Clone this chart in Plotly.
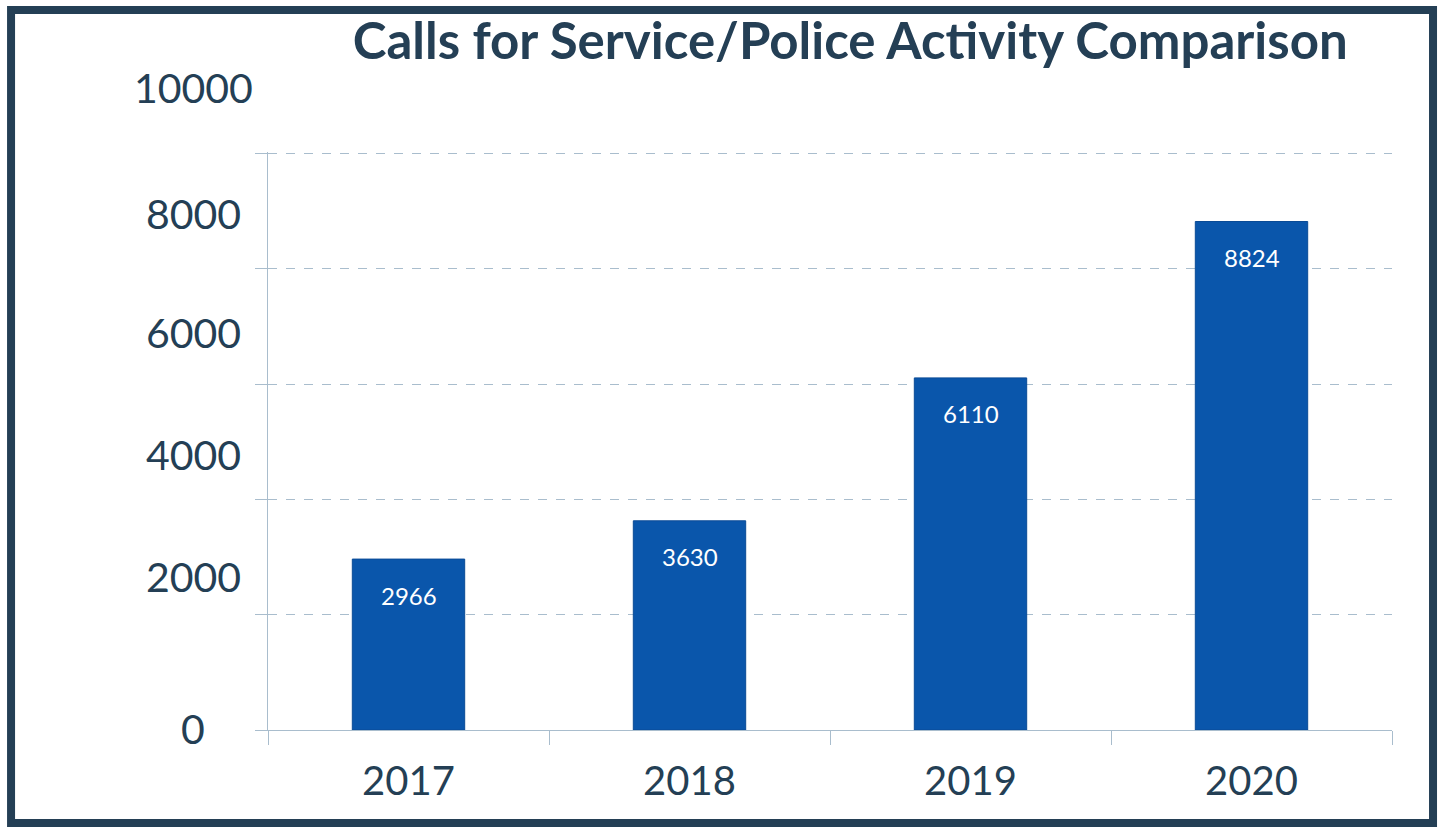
import plotly.graph_objects as go

# Data
years = ["2017", "2018", "2019", "2020"]
calls = [2966, 3630, 6110, 8824]
y_tick_values = [0, 2000, 4000, 6000, 8000, 10000]
y_tick_labels = ["0", "2000", "4000", "6000", "8000", "10000"]
# Vertical placement of the axis label texts (paper fraction of the plot height)
y_label_pos = [0.003, 0.265, 0.476, 0.687, 0.893, 1.111]

TEXT = "#243f55"
BAR = "#0a56ab"
GRID = "#a9bdcd"
FONT = "Lato"

fig = go.Figure()
fig.add_trace(go.Bar(
    x=years, y=calls, width=0.4,
    marker=dict(color=BAR, line=dict(color="#0a4b96", width=1)),
    hoverinfo="x+y",
))

annotations = []
# value labels inside the bars, near the top (x given as category index)
for i, v in enumerate(calls):
    annotations.append(dict(
        x=i, y=v, xref="x", yref="y", text=str(v), showarrow=False,
        yshift=-36, font=dict(family=FONT, size=24, color="white"),
    ))
# axis number labels
for txt, pos in zip(y_tick_labels, y_label_pos):
    annotations.append(dict(
        x=-0.0667, y=pos, xref="paper", yref="paper", text=txt, showarrow=False,
        xanchor="center", yanchor="middle",
        font=dict(family=FONT, size=41, color=TEXT),
    ))

fig.update_layout(
    margin=dict(l=268, r=50, t=152, b=97),
    paper_bgcolor="white", plot_bgcolor="white",
    showlegend=False,
    title=dict(
        text="<b>Calls for Service/Police Activity Comparison</b>",
        x=0.518, xref="paper", xanchor="center",
        y=0.950, yref="container", yanchor="middle",
        font=dict(family=FONT, size=51, color=TEXT),
    ),
    xaxis=dict(
        type="category", showgrid=False, range=[-0.5, 3.5],
        showline=True, linecolor=GRID, linewidth=1,
        ticks="outside", tickson="boundaries", ticklen=14, tickcolor=GRID,
        tickfont=dict(family=FONT, size=40, color=TEXT),
        ticklabelstandoff=16,
    ),
    yaxis=dict(
        range=[0, 10030], tickvals=y_tick_values, showticklabels=False,
        showgrid=True, gridcolor=GRID, griddash="dash", gridwidth=1,
        showline=True, linecolor=GRID, linewidth=1,
        ticks="outside", ticklen=12, tickcolor=GRID,
        zeroline=False,
    ),
    annotations=annotations,
    shapes=[dict(
        type="rect", xref="paper", yref="paper",
        x0=-0.2286, x1=1.0365, y0=-0.1609, y1=1.2457,
        line=dict(color=TEXT, width=8), fillcolor="rgba(0,0,0,0)", layer="above",
    )],
)

fig.write_html("out.html")
